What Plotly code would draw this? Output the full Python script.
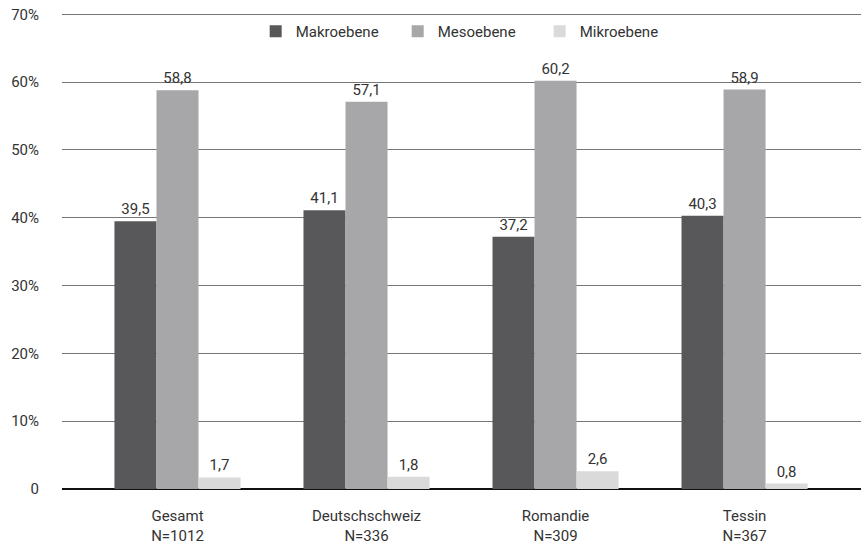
import plotly.graph_objects as go

categories = ["Gesamt<br>N=1012", "Deutschschweiz<br>N=336", "Romandie<br>N=309", "Tessin<br>N=367"]
series_names = ["Makroebene", "Mesoebene", "Mikroebene"]
makro = [39.5, 41.1, 37.2, 40.3]
meso = [58.8, 57.1, 60.2, 58.9]
mikro = [1.7, 1.8, 2.6, 0.8]
colors = ["#58585a", "#a7a7a9", "#dadadb"]
y_tickvals = [0, 10, 20, 30, 40, 50, 60, 70]
y_ticktext = ["0", "10%", "20%", "30%", "40%", "50%", "60%", "70%"]

FONT = "Roboto, Arial, sans-serif"

fig = go.Figure()
for name, vals, col in zip(series_names, [makro, meso, mikro], colors):
    fig.add_trace(go.Bar(
        x=categories, y=vals, name=name, marker_color=col,
        marker_line_width=0,
        text=[f"{v:.1f}".replace(".", ",") for v in vals],
        textposition="outside", cliponaxis=False,
        textfont=dict(family=FONT, size=15, color="#333333"),
    ))

fig.update_layout(
    width=861, height=546,
    margin=dict(l=62, r=0, t=13, b=57, autoexpand=False),
    paper_bgcolor="white", plot_bgcolor="white",
    barmode="group", bargap=0.333, bargroupgap=0,
    font=dict(family=FONT, size=15, color="#333333"),
    showlegend=True,
    legend=dict(orientation="h", x=0.509, xanchor="center", y=0.996, yanchor="top",
                font=dict(family=FONT, size=15, color="#333333"),
                entrywidth=97, entrywidthmode="pixels",
                itemwidth=30, bgcolor="rgba(0,0,0,0)"),
    xaxis=dict(range=[-0.611, 3.616], showgrid=False, zeroline=False, automargin=False,
               showline=False, ticks="", ticklabelstandoff=16,
               tickfont=dict(family=FONT, size=15, color="#333333")),
    yaxis=dict(range=[0, 70.2], tickvals=y_tickvals, ticktext=y_ticktext, automargin=False,
               showgrid=True, gridcolor="#777777", gridwidth=1,
               zeroline=True, zerolinecolor="#111111", zerolinewidth=2,
               showline=False, ticks="", ticklabelstandoff=22,
               tickfont=dict(family=FONT, size=15, color="#333333")),
)

fig.write_html("out.html", config={"displayModeBar": False},
               post_script="document.body.style.margin='0';")
